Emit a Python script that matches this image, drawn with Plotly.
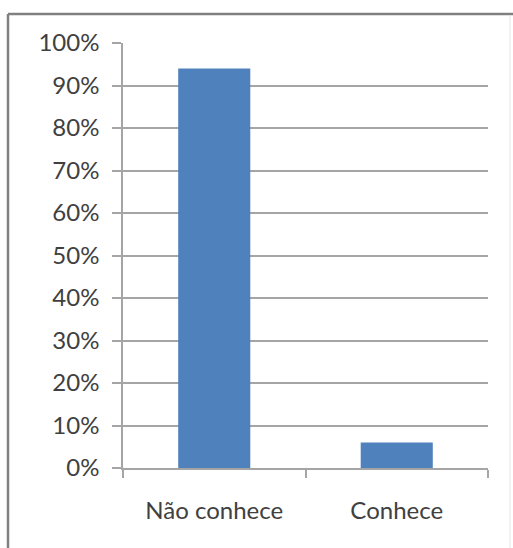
import plotly.graph_objects as go

# Awareness survey: share of respondents
categories = ["Não conhece", "Conhece"]
shares = [0.94, 0.06]
tick_values = [i / 10 for i in range(11)]
tick_labels = [f"{i * 10}%" for i in range(11)]

W, H = 513, 548
L, R, T, B = 123, 25, 43, 80
pw, ph = W - L - R, H - T - B

def px_x(x):
    return (x - L) / pw

def px_y(y):
    return 1 - (y - T) / ph

grid = "#a5a5a5"
text = "#404040"

fig = go.Figure(
    go.Bar(
        x=categories,
        y=shares,
        marker=dict(color="#4F81BD", line=dict(width=0)),
        width=0.395,
    )
)

fig.update_layout(
    width=W,
    height=H,
    margin=dict(l=L, r=R, t=T, b=B),
    paper_bgcolor="white",
    plot_bgcolor="white",
    showlegend=False,
    font=dict(family="Lato", size=24, color=text),
    xaxis=dict(
        type="category",
        showgrid=False,
        showline=True,
        linecolor=grid,
        linewidth=1.5,
        ticks="outside",
        tickson="boundaries",
        ticklen=8,
        tickcolor=grid,
        tickwidth=1.5,
        ticklabelstandoff=20,
        zeroline=False,
    ),
    yaxis=dict(
        range=[0, 1],
        tickvals=tick_values,
        ticktext=tick_labels,
        showgrid=True,
        gridcolor=grid,
        gridwidth=1.5,
        showline=True,
        linecolor=grid,
        linewidth=1.5,
        ticks="outside",
        ticklen=9,
        tickcolor=grid,
        tickwidth=1.5,
        ticklabelstandoff=8,
        zeroline=False,
    ),
)

# Outer frame of the chart area
frame = "#808080"
fig.add_shape(type="line", xref="paper", yref="paper",
              x0=px_x(8), x1=px_x(515), y0=px_y(14), y1=px_y(14),
              line=dict(color=frame, width=2.5))
fig.add_shape(type="line", xref="paper", yref="paper",
              x0=px_x(8), x1=px_x(8), y0=px_y(14), y1=px_y(560),
              line=dict(color=frame, width=2.5))
fig.add_shape(type="line", xref="paper", yref="paper",
              x0=px_x(510), x1=px_x(510), y0=px_y(15), y1=px_y(560),
              line=dict(color="#e6e6e6", width=1))

fig.write_html("out.html")
